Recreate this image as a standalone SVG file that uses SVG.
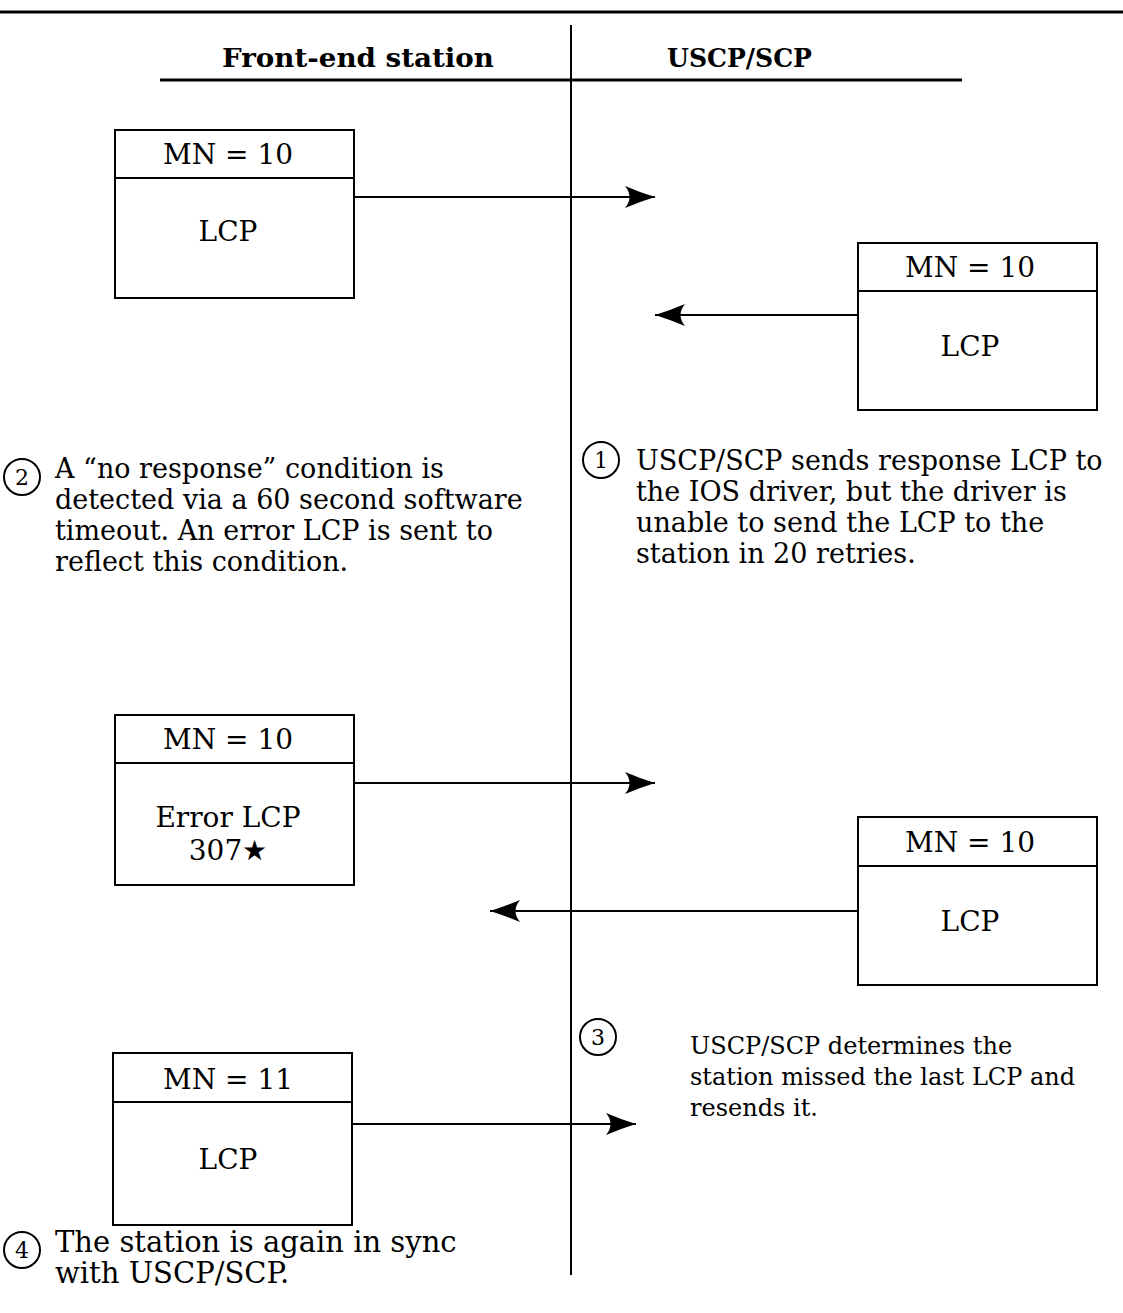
<svg xmlns="http://www.w3.org/2000/svg" width="1123" height="1313" viewBox="0 0 1123 1313">
<style>
  .rule { stroke: #000; stroke-width: 3; fill: none; }
  .line { stroke: #000; stroke-width: 2; fill: none; }
  .box { stroke: #000; stroke-width: 2; fill: #fff; }
  .hdr { font-family: "DejaVu Serif", "Liberation Serif", serif; font-weight: bold; font-size: 26px; fill: #000; }
  .lbl { font-family: "DejaVu Serif", "Liberation Serif", serif; font-size: 28px; fill: #000; text-anchor: middle; }
  .txt { font-family: "DejaVu Serif", "Liberation Serif", serif; font-size: 27px; fill: #000; }
  .sm { font-size: 24px; }
  .lg { font-size: 29px; }
  .num { font-family: "DejaVu Serif", "Liberation Serif", serif; font-size: 22px; fill: #000; text-anchor: middle; }
  .circ { stroke: #000; stroke-width: 2; fill: #fff; }
</style>
<defs>
  <marker id="ah" markerUnits="userSpaceOnUse" markerWidth="34" markerHeight="24" viewBox="-32 -12 34 24" refX="0" refY="0" orient="auto">
    <path d="M0,0 Q-16,-5 -30,-11 Q-21,0 -30,11 Q-16,5 0,0 Z" fill="#000"/>
  </marker>
</defs>
<rect width="1123" height="1313" fill="#fff"/>

<g id="frame">
  <line class="rule" x1="0" y1="12" x2="1123" y2="12"/>
  <line class="line" x1="571" y1="25" x2="571" y2="1275"/>
  <line class="rule" x1="160" y1="80" x2="962" y2="80"/>
  <text class="hdr" x="222" y="67" textLength="272" lengthAdjust="spacingAndGlyphs">Front-end station</text>
  <text class="hdr" x="667" y="67" textLength="145" lengthAdjust="spacingAndGlyphs">USCP/SCP</text>
</g>

<g id="connectors">
  <line class="line" x1="354" y1="197" x2="655" y2="197" marker-end="url(#ah)"/>
  <line class="line" x1="858" y1="315" x2="655" y2="315" marker-end="url(#ah)"/>
  <line class="line" x1="354" y1="783" x2="655" y2="783" marker-end="url(#ah)"/>
  <line class="line" x1="858" y1="911" x2="490" y2="911" marker-end="url(#ah)"/>
  <line class="line" x1="352" y1="1124" x2="636" y2="1124" marker-end="url(#ah)"/>
</g>

<g id="box1">
  <rect class="box" x="115" y="130" width="239" height="168"/>
  <line class="line" x1="115" y1="178" x2="354" y2="178"/>
  <text class="lbl" x="228" y="164">MN = 10</text>
  <text class="lbl" x="228" y="241">LCP</text>
</g>

<g id="box2">
  <rect class="box" x="858" y="243" width="239" height="167"/>
  <line class="line" x1="858" y1="291" x2="1097" y2="291"/>
  <text class="lbl" x="970" y="277">MN = 10</text>
  <text class="lbl" x="970" y="356">LCP</text>
</g>

<g id="note1">
  <circle class="circ" cx="601" cy="460" r="18"/>
  <text class="num" x="601" y="468">1</text>
  <text class="txt" x="636" y="470">USCP/SCP sends response LCP to</text>
  <text class="txt" x="636" y="501">the IOS driver, but the driver is</text>
  <text class="txt" x="636" y="532">unable to send the LCP to the</text>
  <text class="txt" x="636" y="563">station in 20 retries.</text>
</g>

<g id="note2">
  <circle class="circ" cx="22" cy="477" r="18"/>
  <text class="num" x="22" y="485">2</text>
  <text class="txt" x="55" y="478">A “no response” condition is</text>
  <text class="txt" x="55" y="509">detected via a 60 second software</text>
  <text class="txt" x="55" y="540">timeout.  An error LCP is sent to</text>
  <text class="txt" x="55" y="571">reflect this condition.</text>
</g>

<g id="box3">
  <rect class="box" x="115" y="715" width="239" height="170"/>
  <line class="line" x1="115" y1="763" x2="354" y2="763"/>
  <text class="lbl" x="228" y="749">MN = 10</text>
  <text class="lbl" x="228" y="827">Error LCP</text>
  <text class="lbl" x="228" y="860">307★</text>
</g>

<g id="box4">
  <rect class="box" x="858" y="817" width="239" height="168"/>
  <line class="line" x1="858" y1="866" x2="1097" y2="866"/>
  <text class="lbl" x="970" y="852">MN = 10</text>
  <text class="lbl" x="970" y="931">LCP</text>
</g>

<g id="note3">
  <circle class="circ" cx="598" cy="1037" r="18"/>
  <text class="num" x="598" y="1045">3</text>
  <text class="txt sm" x="690" y="1054">USCP/SCP determines the</text>
  <text class="txt sm" x="690" y="1085">station missed the last LCP and</text>
  <text class="txt sm" x="690" y="1116">resends it.</text>
</g>

<g id="box5">
  <rect class="box" x="113" y="1053" width="239" height="172"/>
  <line class="line" x1="113" y1="1102" x2="352" y2="1102"/>
  <text class="lbl" x="228" y="1089">MN = 11</text>
  <text class="lbl" x="228" y="1169">LCP</text>
</g>

<g id="note4">
  <circle class="circ" cx="22" cy="1250" r="18"/>
  <text class="num" x="22" y="1258">4</text>
  <text class="txt lg" x="55" y="1252">The station is again in sync</text>
  <text class="txt lg" x="55" y="1283">with USCP/SCP.</text>
</g>
</svg>
